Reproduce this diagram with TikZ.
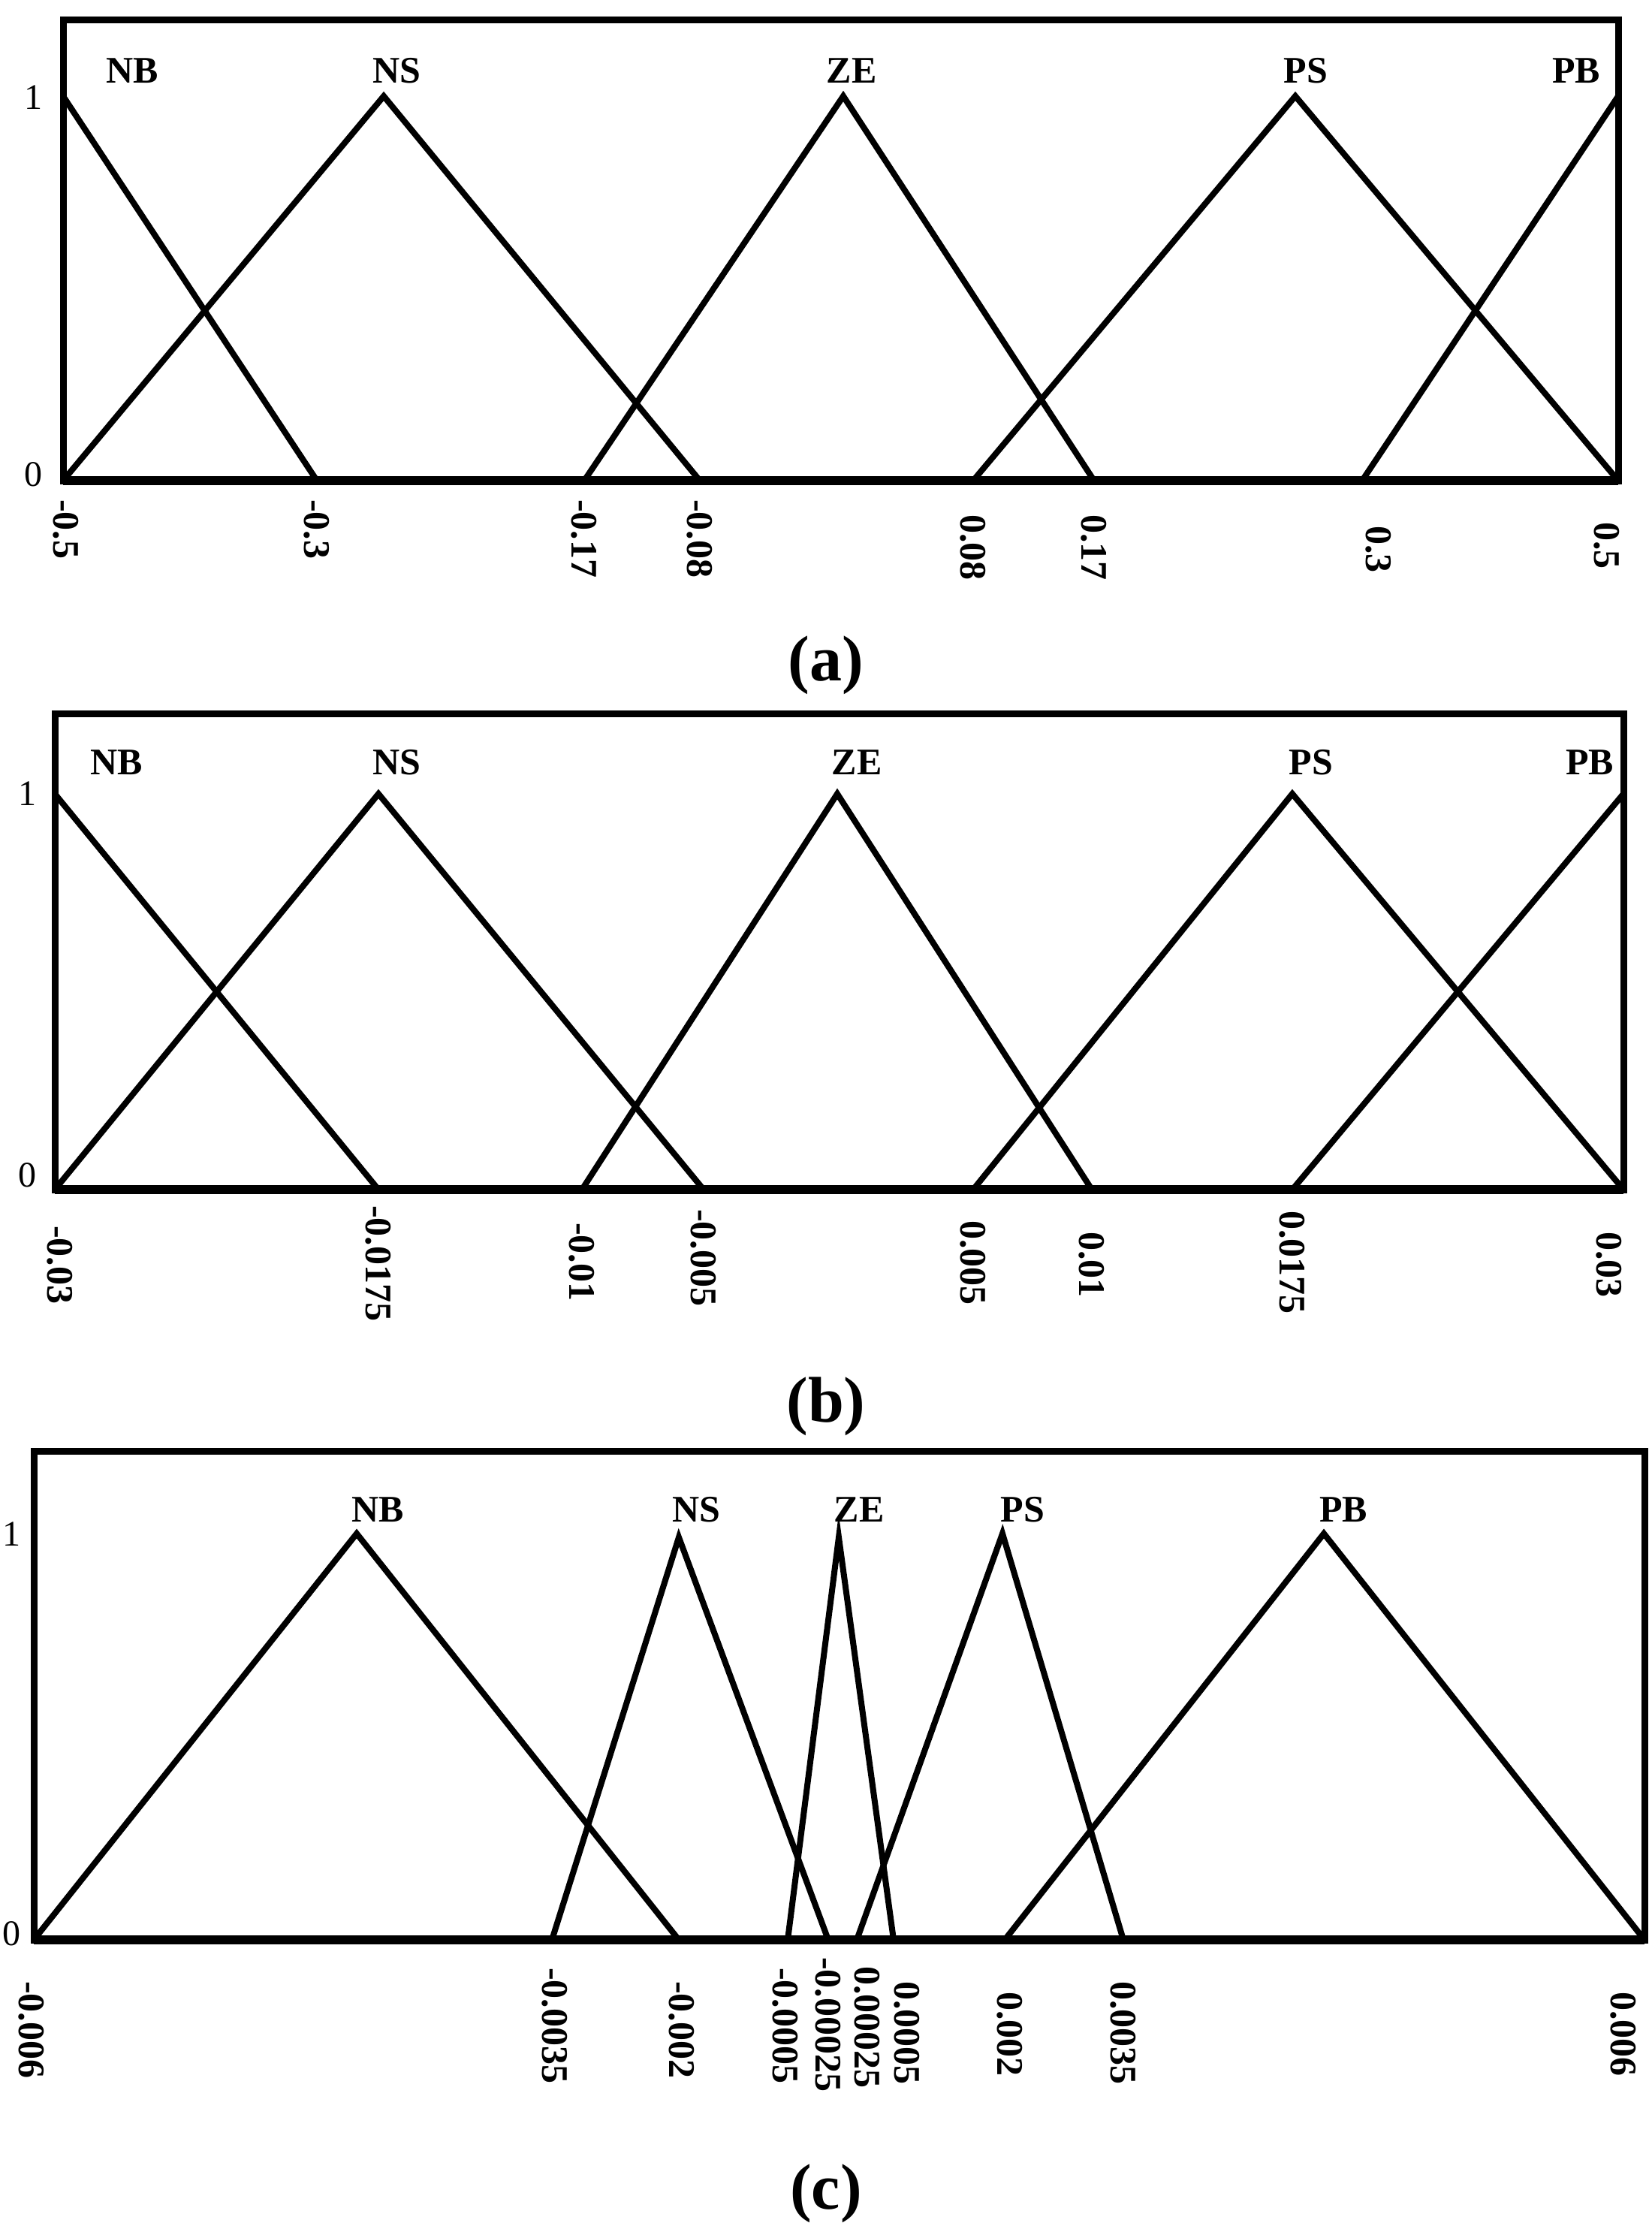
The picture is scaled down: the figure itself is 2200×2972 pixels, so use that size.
\documentclass[tikz,border=0pt]{standalone}
\usepackage{fontspec}
\setmainfont{Liberation Serif}
\begin{document}
\begin{tikzpicture}[x=1pt,y=-1pt,
  mf/.style={line width=8pt,line join=miter},
  frame/.style={line width=9pt},
  axisline/.style={line width=12pt},
  setlbl/.style={font=\fontsize{50}{50}\selectfont\bfseries,inner sep=0pt},
  ticklbl/.style={font=\fontsize{50}{50}\selectfont\bfseries,rotate=-90,anchor=west,inner sep=0pt},
  ylbl/.style={font=\fontsize{48}{48}\selectfont,inner sep=0pt},
  captionlbl/.style={font=\fontsize{86}{86}\selectfont\bfseries,inner sep=0pt}]
\useasboundingbox (0,0) rectangle (2200,2972);
% ---------- (a)
\draw[frame] (84,26) rectangle (2155,640);
\draw[axisline] (84,640) -- (2155,640);
\draw[mf] (84,128) -- (422,640);
\draw[mf] (84,640) -- (511,128) -- (932,640);
\draw[mf] (778,640) -- (1123,128) -- (1457,640);
\draw[mf] (1296,640) -- (1725,128) -- (2155,640);
\draw[mf] (1814,640) -- (2155,128);
\node[setlbl] (anb) at (176,94) {NB};
\node[setlbl] (ans) at (528,94) {NS};
\node[setlbl] (aze) at (1134,94) {ZE};
\node[setlbl] (aps) at (1739,94) {PS};
\node[setlbl] (apb) at (2099,94) {PB};
\node[ylbl] (a1) at (44,130) {1};
\node[ylbl] (a0) at (44,632) {0};
\node[ticklbl] (at1) at (88,665) {-0.5};
\node[ticklbl] (at2) at (422,665) {-0.3};
\node[ticklbl] (at3) at (778,665) {-0.17};
\node[ticklbl] (at4) at (932,665) {-0.08};
\node[ticklbl] (at5) at (1296,685) {0.08};
\node[ticklbl] (at6) at (1457,685) {0.17};
\node[ticklbl] (at7) at (1836,700) {0.3};
\node[ticklbl] (at8) at (2140,695) {0.5};
\node[captionlbl] (capa) at (1100,886) {(a)};
% ---------- (b)
\draw[frame] (73,950) rectangle (2162,1584);
\draw[axisline] (73,1584) -- (2162,1584);
\draw[mf] (73,1057) -- (504,1584);
\draw[mf] (73,1584) -- (504,1057) -- (937,1584);
\draw[mf] (775,1584) -- (1115,1057) -- (1454,1584);
\draw[mf] (1296,1584) -- (1721,1057) -- (2162,1584);
\draw[mf] (1721,1584) -- (2162,1057);
\node[setlbl] (bnb) at (155,1015) {NB};
\node[setlbl] (bns) at (528,1015) {NS};
\node[setlbl] (bze) at (1141,1015) {ZE};
\node[setlbl] (bps) at (1746,1015) {PS};
\node[setlbl] (bpb) at (2117,1015) {PB};
\node[ylbl] (b1) at (36,1057) {1};
\node[ylbl] (b0) at (36,1565) {0};
\node[ticklbl] (bt1) at (80,1632) {-0.03};
\node[ticklbl] (bt2) at (504,1605) {-0.0175};
\node[ticklbl] (bt3) at (775,1628) {-0.01};
\node[ticklbl] (bt4) at (937,1610) {-0.005};
\node[ticklbl] (bt5) at (1296,1625) {0.005};
\node[ticklbl] (bt6) at (1454,1640) {0.01};
\node[ticklbl] (bt7) at (1721,1612) {0.0175};
\node[ticklbl] (bt8) at (2143,1640) {0.03};
\node[captionlbl] (capb) at (1100,1873) {(b)};
% ---------- (c)
\draw[frame] (45,1932) rectangle (2190,2583);
\draw[axisline] (45,2583) -- (2190,2583);
\draw[mf] (45,2583) -- (475,2042) -- (904,2583);
\draw[mf] (735,2583) -- (904,2047) -- (1103,2583);
\draw[mf] (1049,2583) -- (1117,2047) -- (1190,2583);
\draw[mf] (1141,2583) -- (1335,2042) -- (1496,2583);
\draw[mf] (1338,2583) -- (1763,2042) -- (2190,2583);
\node[setlbl] (cnb) at (503,2010) {NB};
\node[setlbl] (cns) at (927,2010) {NS};
\node[setlbl] (cze) at (1144,2010) {ZE};
\node[setlbl] (cps) at (1362,2010) {PS};
\node[setlbl] (cpb) at (1789,2010) {PB};
\node[ylbl] (c1) at (16,2043) {1};
\node[ylbl] (c0) at (16,2575) {0};
\node[ticklbl] (ct1) at (42,2638) {-0.006};
\node[ticklbl] (ct2) at (739,2620) {-0.0035};
\node[ticklbl] (ct3) at (908,2638) {-0.002};
\node[ticklbl] (ct4) at (1046,2620) {-0.0005};
\node[ticklbl] (ct5) at (1103,2606) {-0.00025};
\node[ticklbl] (ct6) at (1155,2618) {0.00025};
\node[ticklbl] (ct7) at (1208,2638) {0.0005};
\node[ticklbl] (ct8) at (1345,2652) {0.002};
\node[ticklbl] (ct9) at (1496,2638) {0.0035};
\node[ticklbl] (ct10) at (2162,2652) {0.006};
\node[captionlbl] (capc) at (1100,2921) {(c)};
\end{tikzpicture}
\end{document}
